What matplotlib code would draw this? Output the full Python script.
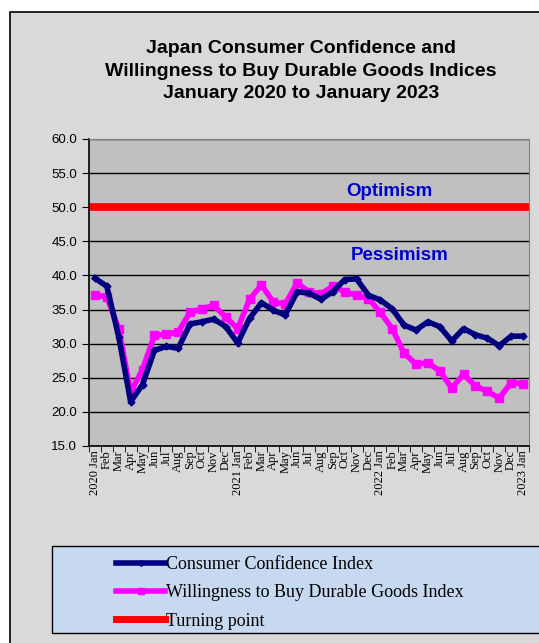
import matplotlib
matplotlib.use("Agg")
import matplotlib.pyplot as plt
from matplotlib.patches import Rectangle
from matplotlib.lines import Line2D

# Datos (ene 2020 - ene 2023)
months = ["Jan", "Feb", "Mar", "Apr", "May", "Jun",
          "Jul", "Aug", "Sep", "Oct", "Nov", "Dec"]
years = [2020, 2021, 2022, 2023]

confidence = [39.6, 38.4, 31.0, 21.5, 24.0, 29.0, 29.6, 29.3, 32.9, 33.2, 33.6, 32.5,
              30.1, 33.7, 36.0, 34.9, 34.2, 37.6, 37.4, 36.5, 37.6, 39.4, 39.5, 37.1,
              36.4, 35.1, 32.7, 32.0, 33.2, 32.5, 30.4, 32.2, 31.3, 30.8, 29.7, 31.1,
              31.1]
durables = [37.2, 36.8, 32.2, 22.9, 26.2, 31.2, 31.4, 31.7, 34.6, 35.1, 35.6, 33.9,
            32.2, 36.5, 38.6, 36.1, 35.8, 38.9, 37.6, 37.3, 38.4, 37.6, 37.1, 36.6,
            34.6, 32.2, 28.6, 27.0, 27.2, 26.0, 23.5, 25.5, 23.8, 23.0, 22.0, 24.3,
            24.1]
turning = 50.0

labels = []
for i in range(len(confidence)):
    m = months[i % 12]
    if i % 12 == 0:
        m = f"{years[i // 12]} {m}"
    labels.append(m)
x = list(range(len(labels)))

W, H = 539, 643
fig = plt.figure(figsize=(W / 100, H / 100), dpi=100)
fig.patch.set_facecolor("white")

# Fondo del área del gráfico
fig.patches.append(Rectangle((10 / W, -0.05), 1.1, 1 - 12 / H + 0.05,
                             transform=fig.transFigure, facecolor="#d9d9d9",
                             edgecolor="black", linewidth=1.2, zorder=-5))

ax = fig.add_axes([89 / W, 1 - 446 / H, 440 / W, 307 / H])
ax.set_facecolor("#c0c0c0")

ax.axhline(turning, color="#ff0000", lw=5.5, solid_capstyle="butt")
ax.plot(x, durables, color="#ff00ff", lw=4, marker="s", ms=6)
ax.plot(x, confidence, color="#000080", lw=4, marker="D", ms=3.5)

ax.set_ylim(15, 60)
ax.set_xlim(-0.5, len(x) - 0.5)
ax.set_yticks([15 + 5 * k for k in range(10)])
ax.set_yticklabels([f"{15 + 5 * k:.1f}" for k in range(10)],
                   fontsize=9.5, family="Liberation Sans")
ax.yaxis.grid(True, color="black", lw=1)
ax.set_axisbelow(True)

ax.set_xticks(x)
ax.set_xticklabels(labels, rotation=90, fontsize=9, family="Liberation Serif")
ax.set_xticks([i - 0.5 for i in range(len(x) + 1)], minor=True)
ax.tick_params(axis="x", which="major", length=0, pad=3)
ax.tick_params(axis="x", which="minor", length=4, direction="out")
ax.tick_params(axis="y", length=5, direction="out")

for s in ("top", "right"):
    ax.spines[s].set_color("#808080")
for s in ("left", "bottom"):
    ax.spines[s].set_color("black")
    ax.spines[s].set_linewidth(1.2)

ax.text(24.8, 52.3, "Optimism", color="#0000cc", fontsize=13.5, fontweight="bold",
        ha="center", va="center", family="Liberation Sans")
ax.text(25.6, 42.9, "Pessimism", color="#0000cc", fontsize=13.5, fontweight="bold",
        ha="center", va="center", family="Liberation Sans")

fig.text(301 / W, 1 - 71 / H,
         "Japan Consumer Confidence and\nWillingness to Buy Durable Goods Indices\nJanuary 2020 to January 2023",
         ha="center", va="center", fontsize=14, fontweight="bold",
         family="Liberation Sans", linespacing=1.45)

# Leyenda
fig.patches.append(Rectangle((52 / W, 1 - 633 / H), 0.95, 87 / H,
                             transform=fig.transFigure, facecolor="#c6d9f0",
                             edgecolor="black", linewidth=1, zorder=1))
handles = [Line2D([], [], color="#000080", lw=4, marker="D", ms=3),
           Line2D([], [], color="#ff00ff", lw=4, marker="s", ms=4),
           Line2D([], [], color="#ff0000", lw=5)]
names = ["Consumer Confidence Index",
         "Willingness to Buy Durable Goods Index",
         "Turning point"]
leg = fig.legend(handles, names, loc="upper left",
                 bbox_to_anchor=(100 / W, 1 - 540 / H), frameon=False,
                 prop={"family": "Liberation Serif", "size": 13},
                 handlelength=2.7, handletextpad=0.05, labelspacing=0.62,
                 numpoints=1)
leg.set_zorder(2)

fig.savefig("out.png", dpi=100)
